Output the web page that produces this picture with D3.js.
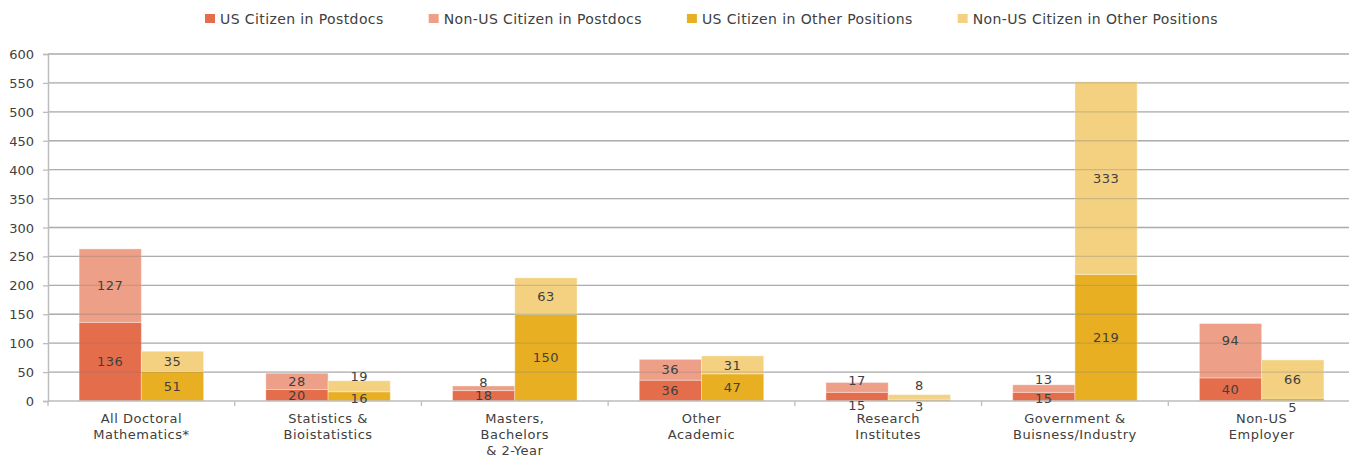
<!DOCTYPE html>
<html>
<head>
<meta charset="utf-8">
<script src="https://cdnjs.cloudflare.com/ajax/libs/d3/7.8.5/d3.min.js"></script>
<style>
	body { margin: 0; background: #fff; }
	#graphic { width: 1349px; height: 457px; overflow: hidden; }
	text { font-family: 'DejaVu Sans', sans-serif; fill: #404040; }
</style>
</head>
<body>
<div id="graphic"></div>
<script>
// categories (label lines)
var categories = [
	['All Doctoral', 'Mathematics*'],
	['Statistics &', 'Bioistatistics'],
	['Masters,', 'Bachelors', '& 2-Year'],
	['Other', 'Academic'],
	['Research', 'Institutes'],
	['Government &', 'Buisness/Industry'],
	['Non-US', 'Employer']
];
var usPostdocs = [136, 20, 18, 36, 15, 15, 40];
var nonUsPostdocs = [127, 28, 8, 36, 17, 13, 94];
var usOther = [51, 16, 150, 47, 3, 219, 5];
var nonUsOther = [35, 19, 63, 31, 8, 333, 66];
var yTicks = [0, 50, 100, 150, 200, 250, 300, 350, 400, 450, 500, 550, 600];

var series = [
	{ key: 'usPost', name: 'US Citizen in Postdocs', values: usPostdocs, group: 'post', colour: '#e46d4b' },
	{ key: 'nonUsPost', name: 'Non-US Citizen in Postdocs', values: nonUsPostdocs, group: 'post', colour: '#ee9f87' },
	{ key: 'usOther', name: 'US Citizen in Other Positions', values: usOther, group: 'other', colour: '#e8af22' },
	{ key: 'nonUsOther', name: 'Non-US Citizen in Other Positions', values: nonUsOther, group: 'other', colour: '#f3d180' }
];

// manual label nudges (px) where the original chart moved labels off centre
var labelShift = {
	'1|nonUsOther': -10, '1|usOther': 1.5,
	'2|nonUsPost': -5.5,
	'4|usPost': 9, '4|nonUsPost': -7, '4|usOther': 6, '4|nonUsOther': -11.5,
	'5|nonUsPost': -9.5, '5|usPost': 1.5,
	'6|nonUsPost': -10, '6|usOther': 8
};

var width = 1349, height = 457;
var svg = d3.select('#graphic').append('svg')
	.attr('width', width).attr('height', height);

var x = d3.scaleBand().domain(d3.range(categories.length)).range([48, 1355]);
var xInner = d3.scaleBand().domain(['post', 'other']).range([0, x.step()]).paddingOuter(0.5).paddingInner(0);
var y = d3.scaleLinear().domain([0, 600]).range([401, 54]);

// build segments
var segments = [];
categories.forEach(function (c, i) {
	var base = { post: 0, other: 0 };
	series.forEach(function (s) {
		var v = s.values[i];
		segments.push({ i: i, s: s, y0: base[s.group], y1: base[s.group] + v, v: v });
		base[s.group] += v;
	});
});

// gridlines
svg.append('g').selectAll('line').data(yTicks.slice(1)).join('line')
	.attr('x1', 48).attr('x2', width)
	.attr('y1', function (d) { return y(d); }).attr('y2', function (d) { return y(d); })
	.attr('stroke', '#c4c4c4').attr('stroke-width', 1.3);

// bars
svg.append('g').selectAll('rect').data(segments).join('rect')
	.attr('x', function (d) { return x(d.i) + xInner(d.s.group); })
	.attr('width', xInner.bandwidth())
	.attr('y', function (d) { return y(d.y1); })
	.attr('height', function (d) { return y(d.y0) - y(d.y1); })
	.attr('fill', function (d) { return d.s.colour; })
	.attr('stroke', 'rgba(255,255,255,0.35)').attr('stroke-width', 1);

// grid over bars (faint, like the original)
svg.append('g').selectAll('line').data(yTicks.slice(1)).join('line')
	.attr('x1', 48).attr('x2', width)
	.attr('y1', function (d) { return y(d); }).attr('y2', function (d) { return y(d); })
	.attr('stroke', '#777').attr('stroke-opacity', 0.3).attr('stroke-width', 1.3);

// y axis
var yAxis = d3.axisLeft(y).tickValues(yTicks).tickSize(5).tickPadding(9);
var yg = svg.append('g').attr('transform', 'translate(48,0)').call(yAxis);
yg.select('.domain').attr('stroke', '#bdbdbd').attr('stroke-width', 1.5);
yg.selectAll('.tick line').attr('stroke', '#bdbdbd').attr('stroke-width', 1.3);
yg.selectAll('.tick text').style('font-size', '13px').style('font-family', "'DejaVu Sans', sans-serif")
	.attr('fill', '#404040').attr('dy', '0.35em');

// x axis line and ticks
svg.append('line').attr('x1', 48).attr('x2', width).attr('y1', y(0)).attr('y2', y(0))
	.attr('stroke', '#bdbdbd').attr('stroke-width', 1.5);
svg.append('g').selectAll('line').data(d3.range(categories.length + 1)).join('line')
	.attr('x1', function (d) { return 48 + d * x.step(); })
	.attr('x2', function (d) { return 48 + d * x.step(); })
	.attr('y1', y(0)).attr('y2', y(0) + 5)
	.attr('stroke', '#bdbdbd').attr('stroke-width', 1.3);

// category labels
svg.append('g').selectAll('text').data(categories).join('text')
	.attr('text-anchor', 'middle')
	.style('font-size', '13px')
	.style('letter-spacing', '0.5px')
	.attr('x', function (d, i) { return x(i) + x.step() / 2; })
	.attr('y', 422.5)
	.each(function (d) {
		var t = d3.select(this);
		d.forEach(function (line, k) {
			t.append('tspan').attr('x', t.attr('x')).attr('dy', k === 0 ? 0 : 16.3).text(line);
		});
	});

// value labels
svg.append('g').selectAll('text').data(segments).join('text')
	.attr('text-anchor', 'middle')
	.style('font-size', '13px')
	.style('letter-spacing', '0.5px')
	.attr('fill', '#333')
	.attr('x', function (d) { return x(d.i) + xInner(d.s.group) + xInner.bandwidth() / 2; })
	.attr('y', function (d) {
		var c = (y(d.y0) + y(d.y1)) / 2;
		return c + (labelShift[d.i + '|' + d.s.key] || 0);
	})
	.attr('dy', '0.36em')
	.text(function (d) { return d.v; });

// legend
var legend = svg.append('g');
var lx = 205;
series.forEach(function (s) {
	legend.append('rect').attr('x', lx).attr('y', 14).attr('width', 10).attr('height', 9).attr('fill', s.colour);
	var t = legend.append('text').attr('x', lx + 15).attr('y', 23.5)
		.style('font-size', '14px').style('letter-spacing', '0.4px').text(s.name);
	lx += 15 + t.node().getComputedTextLength() + 45;
});
</script>
</body>
</html>
